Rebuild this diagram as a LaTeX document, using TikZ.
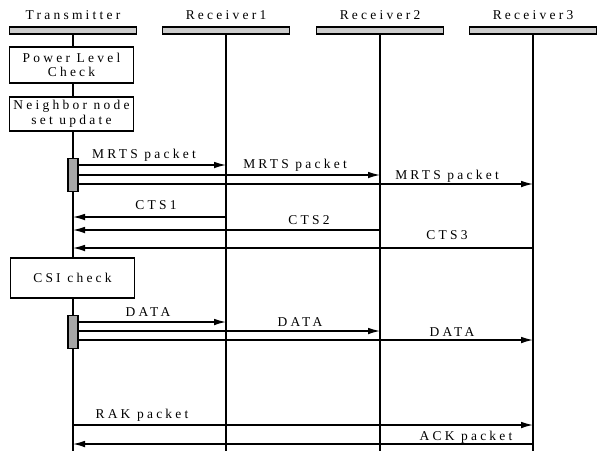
\documentclass[tikz,border=0pt]{standalone}
\usepackage{fontspec}
\setmainfont{Liberation Serif}[LetterSpace=24]
\usetikzlibrary{positioning,arrows.meta}

\begin{document}
\begin{tikzpicture}[x=0.03cm,y=-0.03cm,
    line width=0.9pt,
    every node/.style={font=\fontsize{11.5}{12.5}\selectfont},
    head/.style={rectangle,draw,fill=gray!40,minimum width=3.8cm,
      minimum height=0.21cm,inner sep=0pt},
    stepbox/.style={rectangle,draw,fill=white,align=center,
      minimum width=3.7cm,inner sep=1pt},
    act/.style={rectangle,draw,fill=gray!70,minimum width=0.3cm,
      minimum height=1cm,inner sep=0pt},
    msg/.style={-{Latex[length=3.6mm,width=2mm]},line width=1.1pt}
    ]
    \useasboundingbox (0,0) rectangle (600,450);
    % lifeline heads
    \node[head] (hT) at (73,30.5) {};
    \node[head] (hR1) at (226,30.5) {};
    \node[head] (hR2) at (380,30.5) {};
    \node[head] (hR3) at (533,30.5) {};
    \node (T) [above=0.08cm of hT] {Transmitter};
    \node (R1) [above=0.08cm of hR1] {Receiver1};
    \node (R2) [above=0.08cm of hR2] {Receiver2};
    \node (R3) [above=0.08cm of hR3] {Receiver3};
    \coordinate (eT) at (73,452);
    \coordinate (eR1) at (226,452);
    \coordinate (eR2) at (380,452);
    \coordinate (eR3) at (533,452);
    \draw (hT.south) to (eT);
    \draw (hR1.south) to (eR1);
    \draw (hR2.south) to (eR2);
    \draw (hR3.south) to (eR3);
    % local steps of the transmitter
    \node[stepbox,minimum height=1.08cm] (P) at (71.5,65) {Power Level\\Check};
    \node[stepbox,minimum height=1.02cm] (N) at (71.5,114) {Neighbor node\\set update};
    \node[stepbox,minimum height=1.2cm] (C) at (72.5,278) {CSI check};
    \node[act] (A1) at (73,175) {};
    \node[act] (A2) at (73,332) {};
    % MRTS
    \draw[msg] (A1.east |- 0,165) to (hR1 |- 0,165);
    \draw[msg] (A1.east |- 0,175) to (hR2 |- 0,175);
    \draw[msg] (A1.east |- 0,184) to (hR3 |- 0,184);
    \node (m1) at (144,155) {MRTS packet};
    \node (m2) at (295,165) {MRTS packet};
    \node (m3) at (447,176) {MRTS packet};
    % CTS
    \draw[msg] (hR1 |- 0,217) to (hT |- 0,217);
    \draw[msg] (hR2 |- 0,230) to (hT |- 0,230);
    \draw[msg] (hR3 |- 0,248) to (hT |- 0,248);
    \node (c1) at (156,205) {CTS1};
    \node (c2) at (309,220) {CTS2};
    \node (c3) at (447,235) {CTS3};
    % DATA
    \draw[msg] (A2.east |- 0,322) to (hR1 |- 0,322);
    \draw[msg] (A2.east |- 0,331) to (hR2 |- 0,331);
    \draw[msg] (A2.east |- 0,340) to (hR3 |- 0,340);
    \node (d1) at (148,312) {DATA};
    \node (d2) at (300,322) {DATA};
    \node (d3) at (452,332) {DATA};
    % RAK and ACK
    \draw[msg] (hT |- 0,425) to (hR3 |- 0,425);
    \draw[msg] (hR3 |- 0,444) to (hT |- 0,444);
    \node (r) at (142,415) {RAK packet};
    \node (a) at (466,437) {ACK packet};
    \end{tikzpicture}
\end{document}
